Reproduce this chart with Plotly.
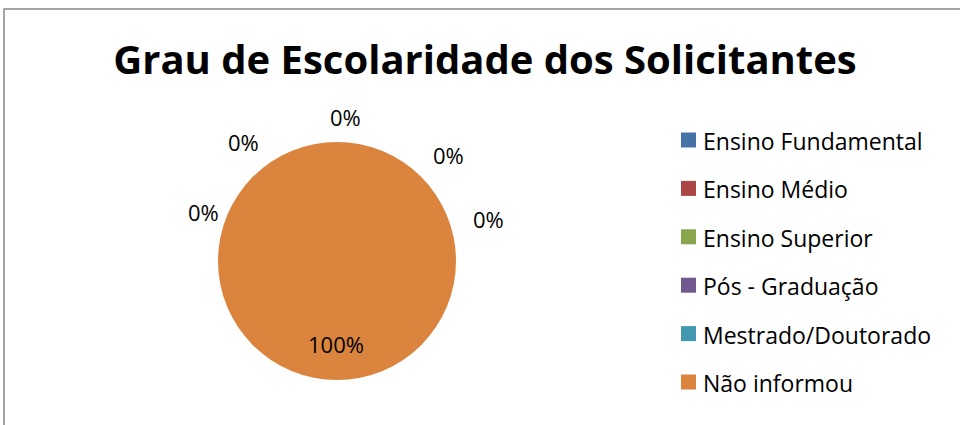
import plotly.graph_objects as go

# ---- data ----
categories = ["Ensino Fundamental", "Ensino Médio", "Ensino Superior",
              "Pós - Graduação", "Mestrado/Doutorado", "Não informou"]
values = [0, 0, 0, 0, 0, 100]
colors = ["#4572A7", "#AA4643", "#89A54E", "#71588F", "#4198AF", "#DB843D"]
title_text = "Grau de Escolaridade dos Solicitantes"

# ---- layout constants (pixels) ----
W, H = 960, 425
PIE_CX, PIE_CY, PIE_R = 337, 261, 119
# label anchor positions (px) for each category's percentage label
LABEL_POS = [(203, 212), (243, 142), (345, 117), (448, 155), (488, 219), (336, 344)]
LEG_X, LEG_Y0, LEG_DY, LEG_SQ = 681, 140, 48.4, 15
LEG_TEXT_DY = 1

FONT = "Open Sans, Liberation Sans, sans-serif"

def px(x):
    return x / W

def py(y):
    return 1 - y / H

total = sum(values)
pcts = [round(v / total * 100) for v in values]

fig = go.Figure()
fig.add_trace(go.Pie(
    labels=categories,
    values=values,
    marker=dict(colors=colors, line=dict(width=0)),
    sort=False,
    direction="clockwise",
    rotation=0,
    textinfo="none",
    hoverinfo="label+percent",
    showlegend=False,
    domain=dict(x=[px(PIE_CX - PIE_R), px(PIE_CX + PIE_R)],
                y=[py(PIE_CY + PIE_R), py(PIE_CY - PIE_R)]),
))

annotations = []
for (lx, ly), p in zip(LABEL_POS, pcts):
    annotations.append(dict(x=px(lx), y=py(ly), xref="paper", yref="paper",
                            text=f"{p}%", showarrow=False,
                            font=dict(family=FONT, size=22, color="#000000"),
                            xanchor="center", yanchor="middle"))

shapes = [dict(type="rect", xref="paper", yref="paper",
               x0=px(4), y0=py(440), x1=px(975), y1=py(9),
               line=dict(color="#888888", width=1.5), fillcolor="rgba(0,0,0,0)")]

for i, (cat, col) in enumerate(zip(categories, colors)):
    cy = LEG_Y0 + i * LEG_DY
    shapes.append(dict(type="rect", xref="paper", yref="paper",
                       x0=px(LEG_X), x1=px(LEG_X + LEG_SQ),
                       y0=py(cy + LEG_SQ / 2), y1=py(cy - LEG_SQ / 2),
                       line=dict(width=0), fillcolor=col))
    annotations.append(dict(x=px(LEG_X + LEG_SQ + 5), y=py(cy + LEG_TEXT_DY),
                            xref="paper", yref="paper",
                            text=cat, showarrow=False,
                            font=dict(family=FONT, size=23, color="#000000"),
                            xanchor="left", yanchor="middle"))

fig.update_layout(
    width=W, height=H,
    margin=dict(l=0, r=0, t=0, b=0),
    paper_bgcolor="white", plot_bgcolor="white",
    title=dict(text=f"<b>{title_text}</b>", x=px(485), y=py(60),
               xanchor="center", yanchor="middle",
               font=dict(family=FONT, size=40, color="#000000")),
    annotations=annotations,
    shapes=shapes,
    showlegend=False,
)

fig.write_html("out.html",
               config={"displayModeBar": False},
               post_script="document.body.style.margin='0';document.body.style.overflow='hidden';")
